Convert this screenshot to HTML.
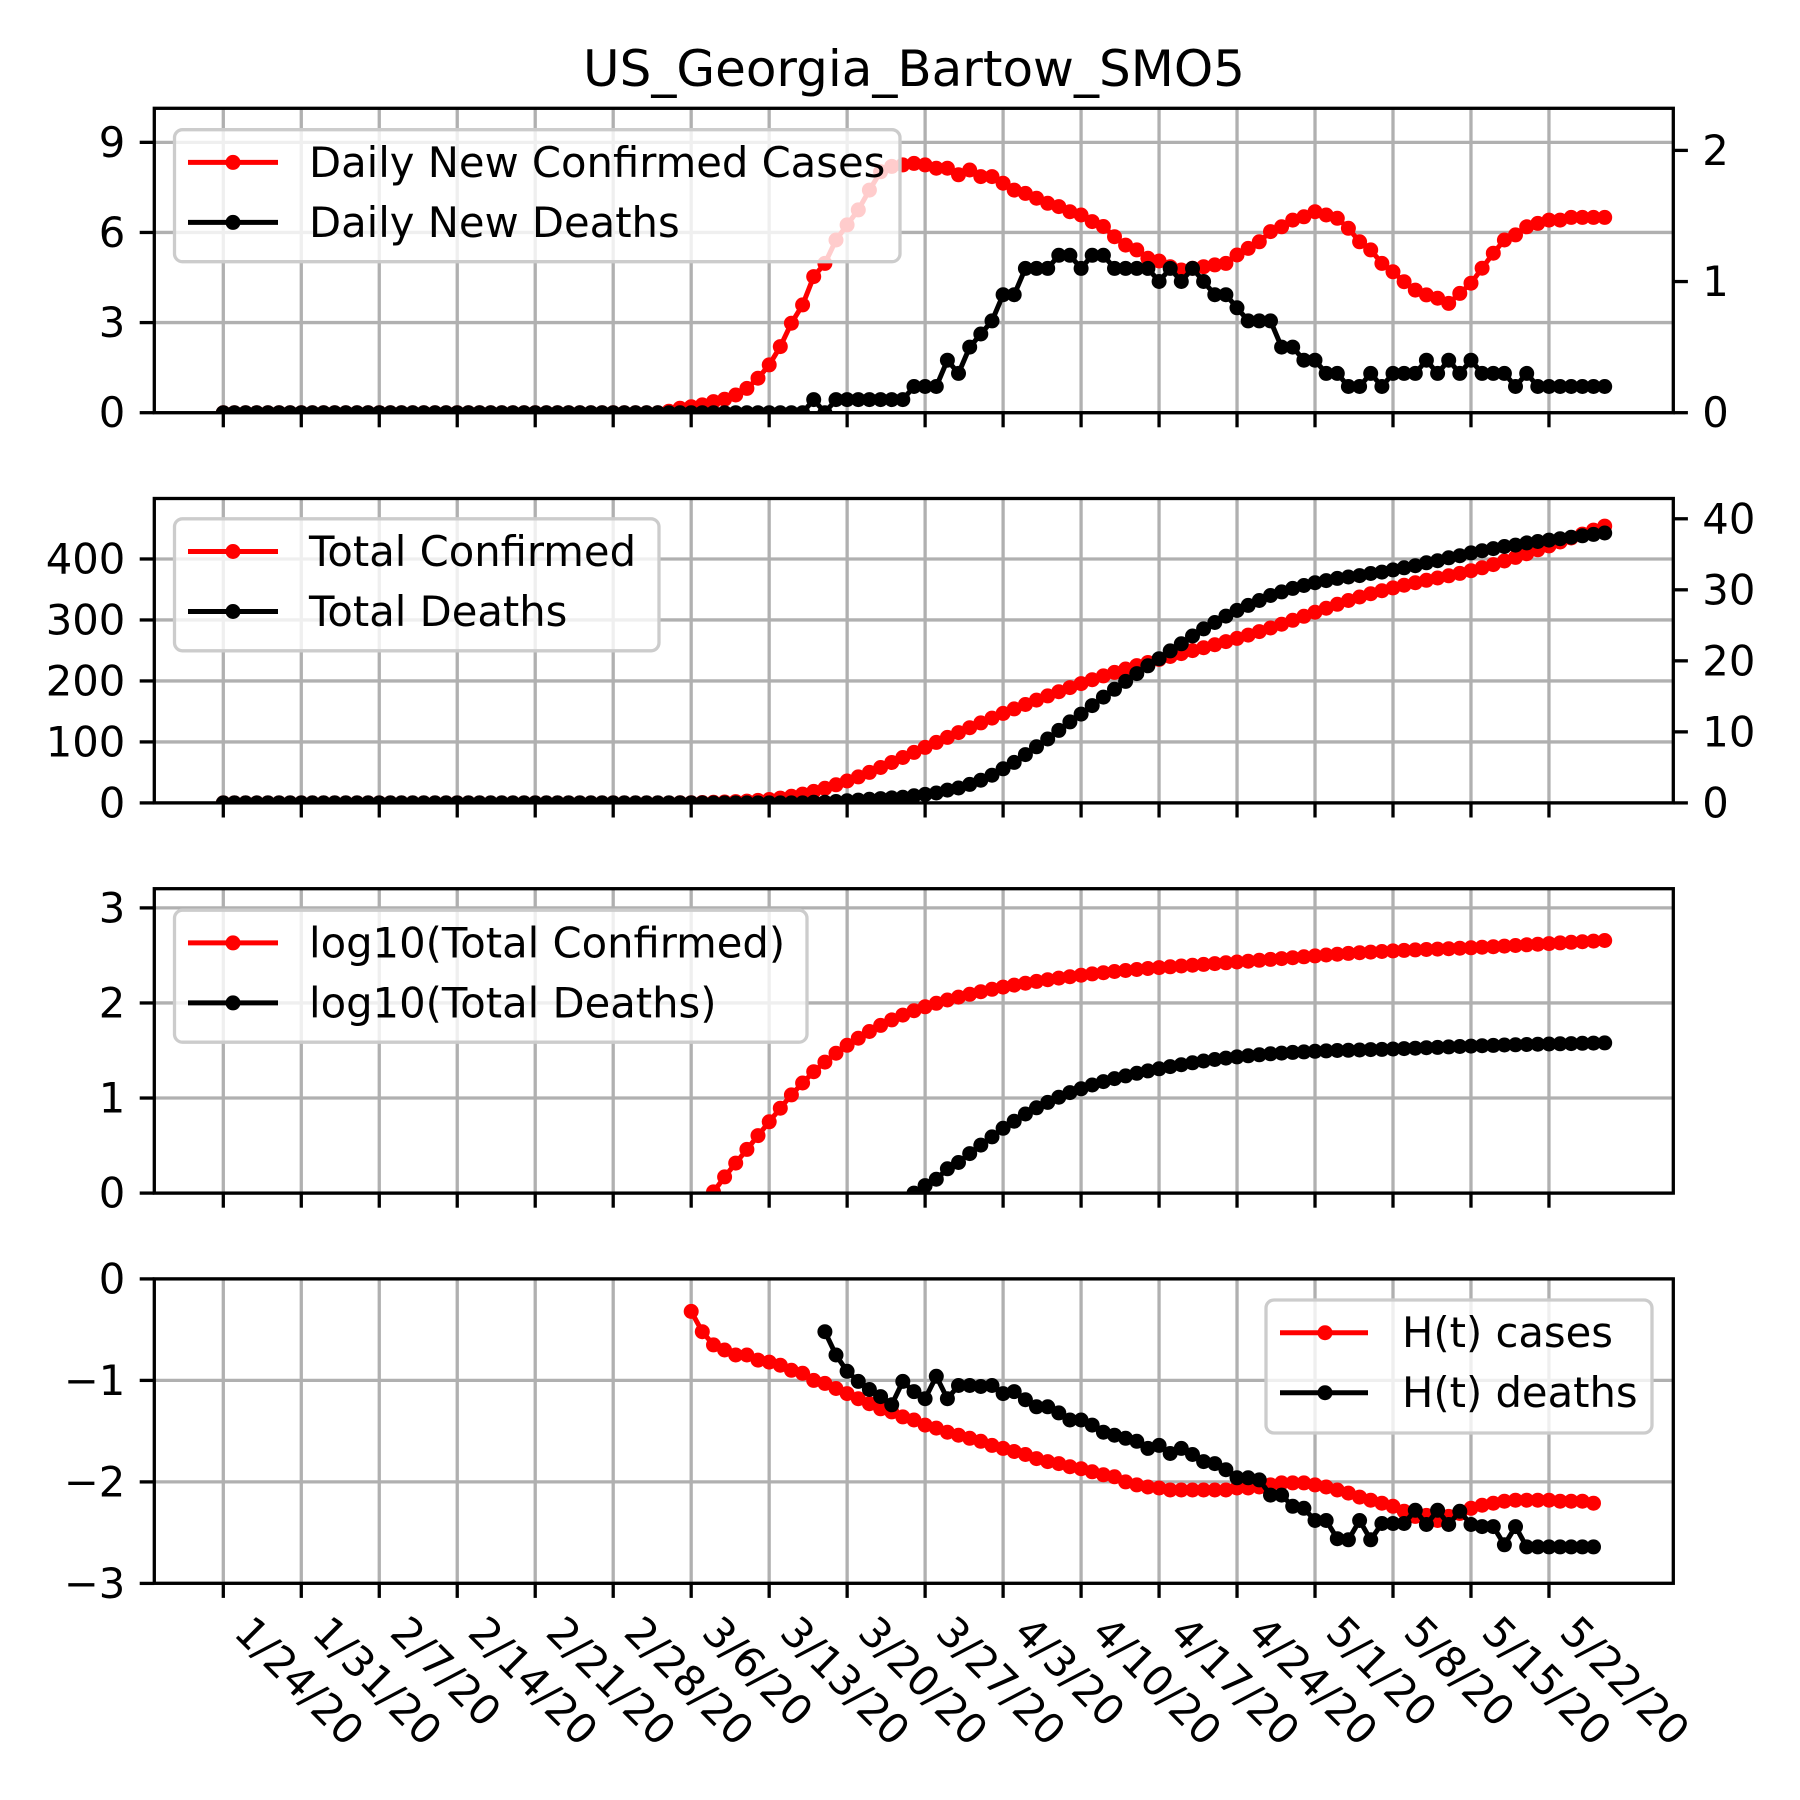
<!DOCTYPE html>
<html><head><meta charset="utf-8"><title>US_Georgia_Bartow_SMO5</title>
<style>
html,body{margin:0;padding:0;background:#fff;}
svg{display:block;font-family:"DejaVu Sans","Liberation Sans",sans-serif;}
</style></head>
<body>
<svg id="fig" xmlns="http://www.w3.org/2000/svg" width="1800" height="1800" viewBox="0 0 1800 1800">
<rect x="0" y="0" width="1800" height="1800" fill="#fff"/>
<text x="914" y="86" font-size="50" text-anchor="middle">US_Georgia_Bartow_SMO5</text>
<defs>
<clipPath id="c0"><rect x="154.3" y="108.3" width="1519" height="304.4"/></clipPath>
<clipPath id="c1"><rect x="154.3" y="498.5" width="1519" height="304.4"/></clipPath>
<clipPath id="c2"><rect x="154.3" y="888.7" width="1519" height="304.4"/></clipPath>
<clipPath id="c3"><rect x="154.3" y="1278.9" width="1519" height="304.4"/></clipPath>
</defs>
<g id="grid"></g>
<g id="series"></g>
<g id="legends">
  <g>
    <rect x="174.5" y="129.7" width="725.5" height="132" rx="8" fill="#fff" fill-opacity="0.8" stroke="#cccccc" stroke-width="3.3"/>
    <line x1="188" y1="162.4" x2="278" y2="162.4" stroke="#ff0000" stroke-width="5"/>
    <circle cx="233" cy="162.4" r="7.5" fill="#ff0000"/>
    <text x="309" y="162.4" font-size="41.7" dominant-baseline="central">Daily New Confirmed Cases</text>
    <line x1="188" y1="222.4" x2="278" y2="222.4" stroke="#000" stroke-width="5"/>
    <circle cx="233" cy="222.4" r="7.5" fill="#000"/>
    <text x="309" y="222.4" font-size="41.7" dominant-baseline="central">Daily New Deaths</text>
  </g>
  <g>
    <rect x="174.5" y="518.8" width="484.5" height="132" rx="8" fill="#fff" fill-opacity="0.8" stroke="#cccccc" stroke-width="3.3"/>
    <line x1="188" y1="551.5" x2="278" y2="551.5" stroke="#ff0000" stroke-width="5"/>
    <circle cx="233" cy="551.5" r="7.5" fill="#ff0000"/>
    <text x="309" y="551.5" font-size="41.7" dominant-baseline="central">Total Confirmed</text>
    <line x1="188" y1="611.5" x2="278" y2="611.5" stroke="#000" stroke-width="5"/>
    <circle cx="233" cy="611.5" r="7.5" fill="#000"/>
    <text x="309" y="611.5" font-size="41.7" dominant-baseline="central">Total Deaths</text>
  </g>
  <g>
    <rect x="174.5" y="910.2" width="632.5" height="132" rx="8" fill="#fff" fill-opacity="0.8" stroke="#cccccc" stroke-width="3.3"/>
    <line x1="188" y1="942.9" x2="278" y2="942.9" stroke="#ff0000" stroke-width="5"/>
    <circle cx="233" cy="942.9" r="7.5" fill="#ff0000"/>
    <text x="309" y="942.9" font-size="41.7" dominant-baseline="central">log10(Total Confirmed)</text>
    <line x1="188" y1="1002.9" x2="278" y2="1002.9" stroke="#000" stroke-width="5"/>
    <circle cx="233" cy="1002.9" r="7.5" fill="#000"/>
    <text x="309" y="1002.9" font-size="41.7" dominant-baseline="central">log10(Total Deaths)</text>
  </g>
  <g>
    <rect x="1266" y="1300" width="386" height="133" rx="8" fill="#fff" fill-opacity="0.8" stroke="#cccccc" stroke-width="3.3"/>
    <line x1="1280" y1="1332.7" x2="1368" y2="1332.7" stroke="#ff0000" stroke-width="5"/>
    <circle cx="1325" cy="1332.7" r="7.5" fill="#ff0000"/>
    <text x="1402" y="1332.7" font-size="41.7" dominant-baseline="central">H(t) cases</text>
    <line x1="1280" y1="1392.7" x2="1368" y2="1392.7" stroke="#000" stroke-width="5"/>
    <circle cx="1325" cy="1392.7" r="7.5" fill="#000"/>
    <text x="1402" y="1392.7" font-size="41.7" dominant-baseline="central">H(t) deaths</text>
  </g>
</g>
<g id="axes"></g>
</svg>
<script>
const dateLabels = ["1/24/20","1/31/20","2/7/20","2/14/20","2/21/20","2/28/20","3/6/20","3/13/20","3/20/20","3/27/20","4/3/20","4/10/20","4/17/20","4/24/20","5/1/20","5/8/20","5/15/20","5/22/20"];
const dateTickDays = [0,7,14,21,28,35,42,49,56,63,70,77,84,91,98,105,112,119];

const dailyCases = [0,0,0,0,0,0,0,0,0,0,0,0,0,0,0,0,0,0,0,0,0,0,0,0,0,0,0,0,0,0,0,0,0,0,0,0,0,0,0,0,
0.05,0.15,0.2,0.26,0.37,0.45,0.59,0.81,1.15,1.59,
2.2,2.98,3.59,4.53,4.97,5.75,6.25,6.75,7.41,8.02,
8.2,8.25,8.3,8.25,8.14,8.14,7.92,8.08,7.86,7.86,
7.64,7.41,7.3,7.14,6.97,6.86,6.69,6.58,6.36,6.2,
5.86,5.58,5.42,5.14,5.05,4.86,4.75,4.81,4.86,4.92,
4.97,5.25,5.47,5.69,6.03,6.19,6.41,6.52,6.69,6.58,
6.47,6.14,5.69,5.42,4.97,4.69,4.36,4.08,3.92,3.81,
3.64,3.97,4.31,4.81,5.31,5.75,5.92,6.19,6.3,6.41,
6.41,6.5,6.5,6.5,6.5];

const dailyDeaths = [0,0,0,0,0,0,0,0,0,0,0,0,0,0,0,0,0,0,0,0,0,0,0,0,0,0,0,0,0,0,0,0,0,0,0,0,0,0,0,0,0,0,0,0,0,0,0,0,0,0,0,0,0,
0.1,0,0.1,0.1,0.1,0.1,0.1,0.1,0.1,
0.2,0.2,0.2,0.4,0.3,0.5,0.6,0.7,0.9,0.9,
1.1,1.1,1.1,1.2,1.2,1.1,1.2,1.2,1.1,1.1,
1.1,1.1,1.0,1.1,1.0,1.1,1.0,0.9,0.9,0.8,
0.7,0.7,0.7,0.5,0.5,0.4,0.4,0.3,0.3,0.2,
0.2,0.3,0.2,0.3,0.3,0.3,0.4,0.3,0.4,0.3,
0.4,0.3,0.3,0.3,0.2,0.3,0.2,0.2,0.2,0.2,
0.2,0.2,0.2];

const totalCases = [0,0,0,0,0,0,0,0,0,0,0,0,0,0,0,0,0,0,0,0,0,0,0,0,0,0,0,0,0,0,0,0,0,0,0,0,0,0,0,0,
0.05,0.2,0.4,0.66,1.03,1.48,2.07,2.88,4.03,5.62,
7.82,10.8,14.39,18.92,23.89,29.64,35.89,42.64,50.05,58.07,
66.27,74.52,82.82,91.07,99.21,107.35,115.27,123.35,131.21,139.07,
146.71,154.12,161.42,168.56,175.53,182.39,189.08,195.66,202.02,208.22,
214.08,219.66,225.08,230.22,235.27,240.13,244.88,249.69,254.55,259.47,
264.44,269.69,275.16,280.85,286.88,293.07,299.48,306.0,312.69,319.27,
325.74,331.88,337.57,342.99,347.96,352.65,357.01,361.09,365.01,368.82,
372.46,376.43,380.74,385.55,390.86,396.61,402.53,408.72,415.02,421.43,
427.84,434.34,440.84,447.34,453.84];

const totalDeaths = [0,0,0,0,0,0,0,0,0,0,0,0,0,0,0,0,0,0,0,0,0,0,0,0,0,0,0,0,0,0,0,0,0,0,0,0,0,0,0,0,0,0,0,0,0,0,0,0,0,0,0,0,0,
0.1,0.1,0.2,0.3,0.4,0.5,0.6,0.7,0.8,
1.0,1.2,1.4,1.8,2.1,2.6,3.2,3.9,4.8,5.7,
6.8,7.9,9.0,10.2,11.4,12.5,13.7,14.9,16.0,17.1,
18.2,19.3,20.3,21.4,22.4,23.5,24.5,25.4,26.3,27.1,
27.8,28.5,29.2,29.7,30.2,30.6,31.0,31.3,31.6,31.8,
32.0,32.3,32.5,32.8,33.1,33.4,33.8,34.1,34.5,34.8,
35.2,35.5,35.8,36.1,36.3,36.6,36.8,37.0,37.2,37.4,
37.6,37.8,38.0];

const htCasesStart = 42;
const htCases = [-0.32,-0.52,-0.65,-0.70,-0.75,-0.75,-0.80,-0.82,-0.85,-0.90,
-0.93,-1.0,-1.03,-1.08,-1.13,-1.18,-1.23,-1.28,-1.31,-1.36,
-1.39,-1.44,-1.47,-1.51,-1.54,-1.57,-1.60,-1.64,-1.67,-1.70,
-1.73,-1.77,-1.80,-1.82,-1.85,-1.87,-1.90,-1.93,-1.95,-2.0,
-2.03,-2.05,-2.06,-2.08,-2.08,-2.08,-2.08,-2.08,-2.08,-2.06,
-2.06,-2.05,-2.03,-2.01,-2.01,-2.01,-2.03,-2.05,-2.08,-2.11,
-2.15,-2.18,-2.21,-2.24,-2.29,-2.34,-2.33,-2.38,-2.34,-2.31,
-2.26,-2.23,-2.21,-2.19,-2.18,-2.18,-2.18,-2.18,-2.19,-2.19,
-2.19,-2.21];

const htDeathsStart = 54;
const htDeaths = [-0.52,-0.75,-0.91,-1.01,-1.09,-1.16,-1.24,-1.01,-1.11,-1.18,
-0.96,-1.18,-1.05,-1.05,-1.06,-1.05,-1.13,-1.11,-1.19,-1.26,
-1.26,-1.32,-1.39,-1.39,-1.44,-1.51,-1.54,-1.57,-1.60,-1.67,
-1.64,-1.72,-1.67,-1.73,-1.80,-1.82,-1.88,-1.96,-1.96,-1.98,
-2.13,-2.13,-2.24,-2.26,-2.38,-2.38,-2.56,-2.57,-2.38,-2.57,
-2.41,-2.41,-2.41,-2.28,-2.42,-2.28,-2.42,-2.29,-2.42,-2.44,
-2.44,-2.62,-2.44,-2.64,-2.64,-2.64,-2.64,-2.64,-2.64,-2.64];

const p1LeftTicks = [0,3,6,9];
const p1RightTicks = [0,1,2];
const p2LeftTicks = [0,100,200,300,400];
const p2RightTicks = [0,10,20,30,40];
const p3Ticks = [0,1,2,3];
const p4Ticks = [0,-1,-2,-3];

const NS = "http://www.w3.org/2000/svg";
const L = 154.3, R = 1673.3;
const panels = [{t:108.3,b:412.7},{t:498.5,b:802.9},{t:888.7,b:1193.1},{t:1278.9,b:1583.3}];
function xDay(d){ return 223.3 + 11.14*d; }
const y1L = v => 412.7 - 30.04*v;
const y1R = v => 412.7 - 131.15*v;
const y2L = v => 802.9 - 0.6098*v;
const y2R = v => 802.9 - 7.103*v;
const y3 = v => 1193.1 - 95.07*v;
const y4 = v => 1278.9 - 101.5*v;

const gGrid = document.getElementById('grid');
const gSer = document.getElementById('series');
const gAx = document.getElementById('axes');
function el(tag, attrs, parent){
  const e = document.createElementNS(NS, tag);
  for (const k in attrs) e.setAttribute(k, attrs[k]);
  parent.appendChild(e);
  return e;
}
function fmt(v){ return v < 0 ? '\u2212' + Math.abs(v) : String(v); }

panels.forEach((p, pi) => {
  dateTickDays.forEach((d, i) => {
    const x = xDay(d);
    const g = el('line', {x1:x, x2:x, y1:p.t, y2:p.b, stroke:'#b0b0b0', 'stroke-width':3.3}, gGrid);
    
    
    const t = el('line', {x1:x, x2:x, y1:p.b, y2:p.b+14.6, stroke:'#000', 'stroke-width':3.3}, gAx);
    
    
    if (pi === 3) {
      const lb = el('text', {x:0, y:0, 'font-size':41.7, 'dominant-baseline':'hanging', transform:'translate(' + (x+31) + ',' + (p.b+29) + ') rotate(45)'}, gAx);
      lb.textContent = dateLabels[i];
      
      
    }
  });
  const sp = el('rect', {x:L, y:p.t, width:R-L, height:p.b-p.t, fill:'none', stroke:'#000', 'stroke-width':3.3}, gAx);
  
  
});

function yTicks(vals, fy, side, withGrid){
  vals.forEach(v => {
    const y = fy(v);
    if (withGrid) {
      const g = el('line', {x1:L, x2:R, y1:y, y2:y, stroke:'#b0b0b0', 'stroke-width':3.3}, gGrid);
      
      
    }
    const tx = side === 'left' ? L : R;
    const dir = side === 'left' ? -1 : 1;
    const t = el('line', {x1:tx, x2:tx + dir*14.6, y1:y, y2:y, stroke:'#000', 'stroke-width':3.3}, gAx);
    
    
    const lb = el('text', {x: tx + dir*29, y:y, 'font-size':41.7, 'dominant-baseline':'central', 'text-anchor': side === 'left' ? 'end' : 'start'}, gAx);
    lb.textContent = fmt(v);
    
    
  });
}
yTicks(p1LeftTicks, y1L, 'left', true);
yTicks(p1RightTicks, y1R, 'right', false);
yTicks(p2LeftTicks, y2L, 'left', true);
yTicks(p2RightTicks, y2R, 'right', false);
yTicks(p3Ticks, y3, 'left', true);
yTicks(p4Ticks, y4, 'left', true);

function series(vals, start, fy, color, clip, name){
  const g = el('g', {'clip-path':'url(#' + clip + ')'}, gSer);
  
  
  const pts = [];
  vals.forEach((v, i) => {
    if (v === null || !isFinite(v)) return;
    pts.push([xDay(start + i), fy(v)]);
  });
  const line = el('polyline', {points: pts.map(p => p[0].toFixed(1) + ',' + p[1].toFixed(1)).join(' '), fill:'none', stroke:color, 'stroke-width':5, 'stroke-linejoin':'round'}, g);
  
  
  pts.forEach(p => {
    const c = el('circle', {cx:p[0].toFixed(1), cy:p[1].toFixed(1), r:7.5, fill:color}, g);
    
    
  });
}
const logCases = totalCases.map(v => v > 0 ? Math.log10(v) : null);
const logDeaths = totalDeaths.map(v => v > 0 ? Math.log10(v) : null);

series(dailyCases, 0, y1L, '#ff0000', 'c0', 'daily-cases');
series(dailyDeaths, 0, y1R, '#000000', 'c0', 'daily-deaths');
series(totalCases, 0, y2L, '#ff0000', 'c1', 'total-cases');
series(totalDeaths, 0, y2R, '#000000', 'c1', 'total-deaths');
series(logCases, 0, y3, '#ff0000', 'c2', 'log-total-cases');
series(logDeaths, 0, y3, '#000000', 'c2', 'log-total-deaths');
series(htCases, htCasesStart, y4, '#ff0000', 'c3', 'ht-cases');
series(htDeaths, htDeathsStart, y4, '#000000', 'c3', 'ht-deaths');
</script>
</body></html>
